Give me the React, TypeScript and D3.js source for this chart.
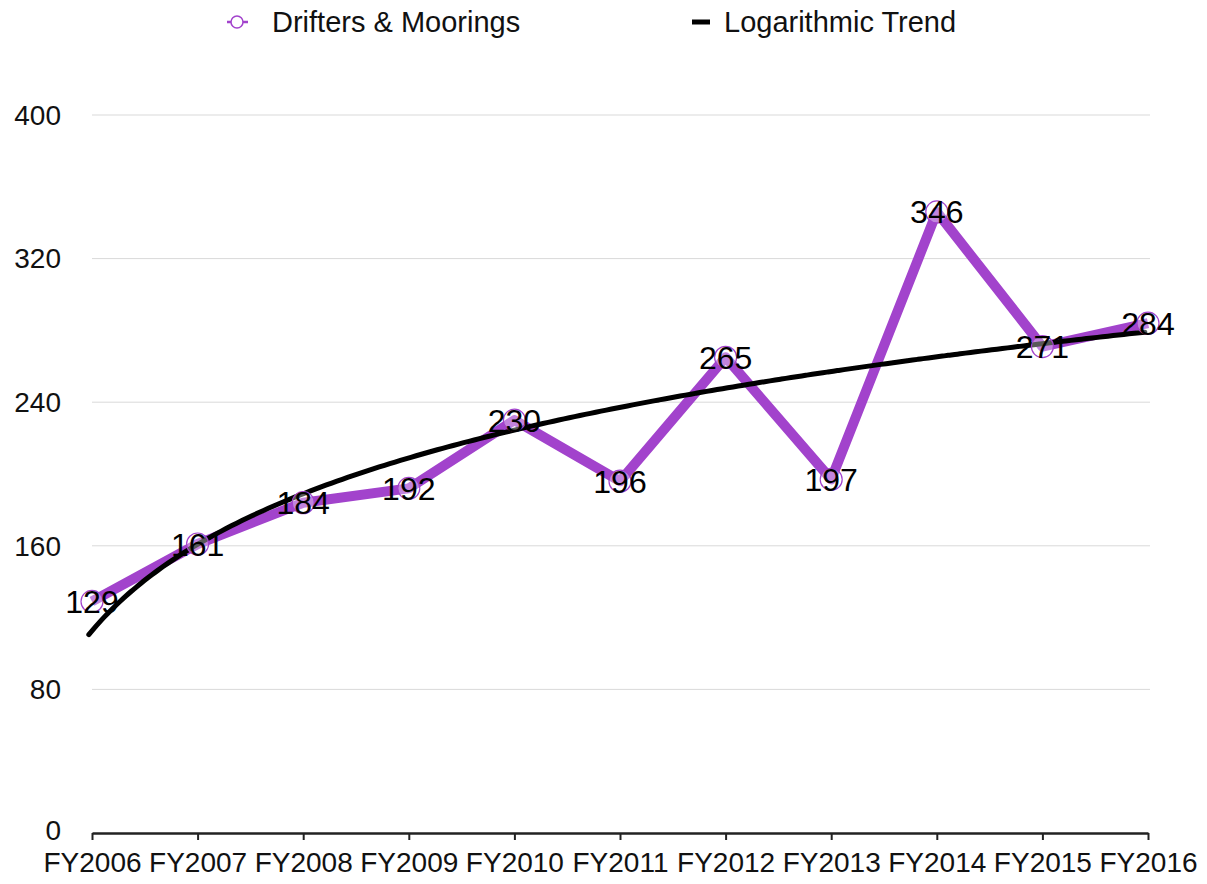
import { useEffect, useRef } from 'react';
import { select, scaleLinear, scalePoint, axisBottom, line, curveMonotoneX, range } from 'd3';

const years = ['FY2006', 'FY2007', 'FY2008', 'FY2009', 'FY2010', 'FY2011', 'FY2012', 'FY2013', 'FY2014', 'FY2015', 'FY2016'];
const counts = [129, 161, 184, 192, 230, 196, 265, 197, 346, 271, 284];
const yTicks = [0, 80, 160, 240, 320, 400];
const seriesName = 'Drifters & Moorings';
const trendName = 'Logarithmic Trend';

const PURPLE = '#a243cc';
const FONT = '"Liberation Sans", Arial, Helvetica, sans-serif';

// least squares fit y = a + b*ln(x), x = 1..n
function logFit(vals: number[]) {
  const n = vals.length;
  const lx = vals.map((_, i) => Math.log(i + 1));
  const mx = lx.reduce((s, v) => s + v, 0) / n;
  const my = vals.reduce((s, v) => s + v, 0) / n;
  let num = 0, den = 0;
  lx.forEach((v, i) => { num += (v - mx) * (vals[i] - my); den += (v - mx) * (v - mx); });
  const b = num / den;
  const a = my - b * mx;
  return (x: number) => a + b * Math.log(x);
}

export default function App() {
  const svgRef = useRef<SVGSVGElement>(null);

  useEffect(() => {
    if (!svgRef.current) return;
    const svg = select(svgRef.current);
    svg.selectAll('*').remove();

    const x = scalePoint<string>().domain(years).range([92, 1148]);
    const y = scaleLinear().domain([0, 400]).range([833, 115]);

    // grid
    svg.append('g').selectAll('line')
      .data(yTicks.filter(d => d > 0))
      .enter().append('line')
      .attr('x1', 92).attr('x2', 1150)
      .attr('y1', d => y(d)).attr('y2', d => y(d))
      .attr('stroke', '#d9d9d9').attr('stroke-width', 1);

    // y labels
    svg.append('g').selectAll('text')
      .data(yTicks)
      .enter().append('text')
      .attr('x', 61).attr('y', d => y(d) - (d === 0 ? 3 : 0))
      .attr('dy', '0.35em')
      .attr('text-anchor', 'end')
      .attr('font-family', FONT).attr('font-size', 28)
      .attr('fill', '#111')
      .text(d => d);

    // x axis
    const gx = svg.append('g').attr('transform', `translate(0,${y(0)})`)
      .call(axisBottom(x).tickSize(7).tickPadding(12).tickSizeOuter(0));
    gx.select('.domain').attr('stroke', '#222').attr('stroke-width', 2.5);
    gx.selectAll('.tick line').attr('stroke', '#222').attr('stroke-width', 2);
    gx.selectAll('.tick text')
      .attr('font-family', FONT).attr('font-size', 28).attr('fill', '#111');

    // series line
    const pts = years.map((yr, i) => [x(yr)!, y(counts[i])] as [number, number]);
    svg.append('path')
      .datum(pts)
      .attr('fill', 'none')
      .attr('stroke', PURPLE)
      .attr('stroke-width', 10)
      .attr('stroke-linejoin', 'round')
      .attr('d', line());

    // trend line
    const fit = logFit(counts);
    const xi = scaleLinear().domain([1, years.length]).range([92, 1148]);
    const tpts = range(0.97, years.length + 0.001, 0.05).map(t => [xi(t), y(fit(t))] as [number, number]);
    svg.append('path')
      .datum(tpts)
      .attr('fill', 'none')
      .attr('stroke', '#000')
      .attr('stroke-width', 5)
      .attr('stroke-linecap', 'round')
      .attr('d', line().curve(curveMonotoneX));

    // markers
    svg.append('g').selectAll('circle')
      .data(pts)
      .enter().append('circle')
      .attr('cx', d => d[0]).attr('cy', d => d[1])
      .attr('r', 11)
      .attr('fill', 'rgba(255,255,255,0.35)')
      .attr('stroke', PURPLE).attr('stroke-width', 1.2);

    // labels
    svg.append('g').selectAll('text')
      .data(counts)
      .enter().append('text')
      .attr('x', (_, i) => x(years[i])!)
      .attr('y', d => y(d))
      .attr('dy', '0.36em')
      .attr('text-anchor', 'middle')
      .attr('font-family', FONT).attr('font-size', 32)
      .attr('fill', '#000')
      .text(d => d);

    // legend
    const lg = svg.append('g');
    lg.append('line').attr('x1', 227).attr('x2', 248).attr('y1', 22).attr('y2', 22)
      .attr('stroke', PURPLE).attr('stroke-width', 2.5);
    lg.append('circle').attr('cx', 237).attr('cy', 22).attr('r', 6)
      .attr('fill', '#fff').attr('stroke', PURPLE).attr('stroke-width', 1.5);
    lg.append('text').attr('x', 272).attr('y', 22).attr('dy', '0.36em')
      .attr('font-family', FONT).attr('font-size', 29).attr('fill', '#111')
      .text(seriesName);
    lg.append('line').attr('x1', 692).attr('x2', 710).attr('y1', 22).attr('y2', 22)
      .attr('stroke', '#000').attr('stroke-width', 5);
    lg.append('text').attr('x', 724).attr('y', 22).attr('dy', '0.36em')
      .attr('font-family', FONT).attr('font-size', 29).attr('fill', '#111')
      .text(trendName);
  }, []);

  return (
    <svg ref={svgRef} width={1207} height={884}
      style={{ position: 'absolute', left: 0, top: 0, background: '#fff' }} />
  );
}
